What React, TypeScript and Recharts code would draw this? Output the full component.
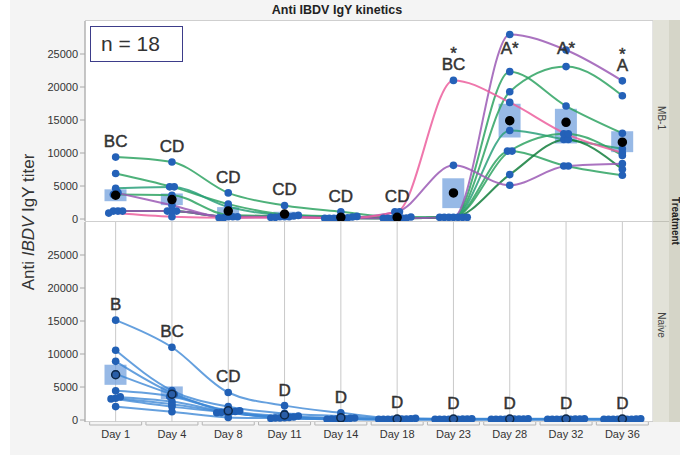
import React from "react"
import { Bar, CartesianGrid, ComposedChart, Line, Scatter, XAxis, YAxis } from "recharts"

const days = ["Day 1", "Day 4", "Day 8", "Day 11", "Day 14", "Day 18", "Day 23", "Day 28", "Day 32", "Day 36"]
const yTicks = [0, 5000, 10000, 15000, 20000, 25000]

// MB-1 birds, titer per day
const mbGreen1 = [9380, 8630, 3960, 2050, 1100, 300, 250, 22330, 17120, 13000]
const mbGreen2 = [6900, 4870, 2260, 700, 400, 150, 250, 19280, 23090, 18670]
const mbGreen3 = [4650, 4870, 1850, 550, 300, 150, 250, 13400, 12050, 10650]
const mbGreen4 = [3700, 3600, 600, 450, 200, 100, 250, 10290, 12900, 9640]
const mbGreen5 = [1200, 1200, 350, 350, 150, 100, 250, 10290, 8030, 6630]
const mbGreen6 = [1200, 1200, 350, 350, 100, 100, 250, 6730, 12050, 7530]
const mbPurple1 = [4000, 2100, 200, 250, 100, 100, 250, 27960, 25600, 20930]
const mbPurple2 = [1200, 1200, 350, 350, 150, 1100, 8130, 5120, 8030, 8390]
const mbPink = [900, 350, 200, 250, 100, 1100, 21000, 17670, 12900, 10040]

const mbMean = [3600, 2950, 1200, 750, 250, 250, 3960, 14900, 14650, 11640]
const mbLow = [2700, 2100, 500, 400, 100, 50, 1650, 12350, 11450, 10130]
const mbHigh = [4500, 3870, 1800, 1100, 450, 600, 6170, 17470, 16700, 13300]
const mbLetters = ["BC", "CD", "CD", "CD", "CD", "CD", "BC", "A*", "A*", "A"]
const mbStarAbove = [false, false, false, false, false, false, true, false, false, true]

// Naive birds
const nv1 = [15130, 11020, 4170, 2180, 1100, 250, 200, 200, 200, 200]
const nv2 = [10560, 4460, 2030, 1000, 600, 200, 150, 150, 150, 150]
const nv3 = [8890, 4100, 1400, 600, 300, 150, 150, 150, 150, 100]
const nv4 = [7000, 3900, 1300, 450, 250, 150, 100, 150, 100, 100]
const nv5 = [4420, 3550, 1250, 400, 200, 100, 100, 100, 100, 100]
const nv6 = [3500, 2790, 1200, 350, 200, 100, 100, 100, 100, 100]
const nv7 = [3300, 2400, 1150, 300, 150, 100, 100, 100, 100, 100]
const nv8 = [3200, 2030, 1100, 300, 150, 100, 100, 100, 100, 100]
const nv9 = [2030, 1260, 400, 250, 100, 100, 100, 100, 100, 100]

const nvMean = [6860, 3910, 1400, 760, 330, 150, 150, 150, 150, 150]
const nvLow = [5330, 3150, 1050, 450, 150, 100, 100, 100, 100, 100]
const nvHigh = [8380, 5090, 1850, 1100, 520, 200, 200, 200, 200, 200]
const nvLetters = ["B", "BC", "CD", "D", "D", "D", "D", "D", "D", "D"]
const nvStarAbove = days.map(() => false)

type Bird = { key: string; color: string; values: number[] }

const green = "#2fa363"
const mbBirds: Bird[] = [
  { key: "g1", color: green, values: mbGreen1 },
  { key: "g2", color: green, values: mbGreen2 },
  { key: "g3", color: "#2aa07a", values: mbGreen3 },
  { key: "g4", color: green, values: mbGreen4 },
  { key: "g5", color: green, values: mbGreen5 },
  { key: "g6", color: "#137e3c", values: mbGreen6 },
  { key: "p1", color: "#9b5bb5", values: mbPurple1 },
  { key: "p2", color: "#9b5bb5", values: mbPurple2 },
  { key: "k1", color: "#ec5f9e", values: mbPink },
]

const blue = "#3f88d6"
const nvBirds: Bird[] = [nv1, nv2, nv3, nv4, nv5, nv6, nv7, nv8, nv9].map((values, i) => ({
  key: "n" + i,
  color: blue,
  values,
}))

function buildRows(birds: Bird[], mean: number[], lo: number[], hi: number[]) {
  return days.map((day, i) => {
    const row: any = { day, idx: i, mean: mean[i], box: [lo[i], hi[i]] }
    row.peak = Math.max(...birds.map((b) => b.values[i]))
    birds.forEach((b) => (row[b.key] = b.values[i]))
    return row
  })
}

// spread points that sit on the same level, like JMP jitter
function jitter(birds: Bird[], thresh: number, step: number) {
  const off = birds.map(() => days.map(() => 0))
  days.forEach((_, d) => {
    const order = birds.map((_, a) => a).sort((a, b) => birds[a].values[d] - birds[b].values[d])
    let group: number[] = []
    const flush = () => {
      group.forEach((a, i) => (off[a][d] = (i - (group.length - 1) / 2) * step))
      group = []
    }
    order.forEach((a) => {
      if (group.length && birds[a].values[d] - birds[group[0]].values[d] > thresh) flush()
      group.push(a)
    })
    flush()
  })
  return off
}

const font = "'Liberation Sans', Arial, sans-serif"

const DayTick = (props: any) => {
  const { x, y, payload } = props
  const half = 26
  return (
    <g>
      <path
        d={`M${x - half},${y - 3} V${y} H${x + half} V${y - 3}`}
        stroke="#b5b5b5"
        fill="none"
      />
      <text x={x} y={y + 13} textAnchor="middle" fontSize={11} fill="#333" fontFamily={font}>
        {payload.value}
      </text>
    </g>
  )
}

type PanelProps = {
  birds: Bird[]
  mean: number[]
  lo: number[]
  hi: number[]
  letters: string[]
  starAbove: boolean[]
  top: number
  height: number
  bottom: number
  showX: boolean
  lineOpacity: number
  dotColor: string
  meanFill: string
  meanStroke: string
}

function Panel(p: PanelProps) {
  const rows = buildRows(p.birds, p.mean, p.lo, p.hi)
  const offsets = jitter(p.birds, 350, 4.6)
  return (
    <div style={{ position: "absolute", left: 0, top: p.top }}>
      <ComposedChart
        width={680}
        height={p.height}
        data={rows}
        margin={{ top: 1, right: 27, bottom: p.bottom, left: 25 }}
      >
        <CartesianGrid horizontal={false} stroke="#c9c9c9" />
        <XAxis
          dataKey="day"
          padding={{ left: 2.5, right: 2.5 }}
          height={p.showX ? 30 : 0}
          axisLine={false}
          tickLine={false}
          tickSize={0}
          tickMargin={3}
          interval={0}
          tick={p.showX ? <DayTick /> : false}
        />
        <YAxis
          width={60}
          domain={[-300, 30000]}
          ticks={yTicks}
          interval={0}
          allowDataOverflow
          axisLine={{ stroke: "#a8a8a8" }}
          tickLine={{ stroke: "#a8a8a8" }}
          tickSize={5}
          tick={{ fontSize: 11, fill: "#333", fontFamily: font }}
        />
        {p.birds.map((b) => (
          <Line
            key={b.key}
            dataKey={b.key}
            type="monotone"
            stroke={b.color}
            strokeWidth={2}
            strokeOpacity={p.lineOpacity}
            dot={false}
            activeDot={false}
            isAnimationActive={false}
          />
        ))}
        <Bar dataKey="box" barSize={22} fill="#6f9edc" fillOpacity={0.72} isAnimationActive={false} />
        {p.birds.map((b, bi) => (
          <Scatter
            key={"s" + b.key}
            dataKey={b.key}
            isAnimationActive={false}
            shape={(s: any) => (
              <circle cx={s.cx + offsets[bi][s.payload.idx]} cy={s.cy} r={3.8} fill={p.dotColor} />
            )}
          />
        ))}
        <Scatter
          dataKey="mean"
          isAnimationActive={false}
          shape={(s: any) => (
            <circle cx={s.cx} cy={s.cy} r={4} fill={p.meanFill} stroke={p.meanStroke} strokeWidth={1.5} />
          )}
        />
        <Scatter
          dataKey="peak"
          isAnimationActive={false}
          shape={(s: any) => {
            const i = s.payload.idx
            const c = Math.max(s.cy - 16, 28)
            return (
              <text
                x={s.cx}
                y={c + 6}
                fontFamily={font}
                fontSize={17}
                fill="#333"
                stroke="#333"
                strokeWidth={0.45}
                textAnchor="middle"
              >
                {p.starAbove[i] ? (
                  <>
                    <tspan x={s.cx} y={c - 5}>
                      *
                    </tspan>
                    <tspan x={s.cx} y={c + 6}>
                      {p.letters[i]}
                    </tspan>
                  </>
                ) : (
                  p.letters[i]
                )}
              </text>
            )
          }}
        />
      </ComposedChart>
    </div>
  )
}

export default function App() {
  return (
    <div
      style={{
        position: "absolute",
        left: 0,
        top: 0,
        width: 680,
        height: 457,
        background: "#ffffff",
        fontFamily: font,
        overflow: "hidden",
      }}
    >
      <div style={{ position: "absolute", left: 10, top: 0, width: 670, height: 455, background: "#f4f4f4" }} />
      <div
        style={{
          position: "absolute",
          left: 85,
          top: 20,
          width: 568,
          height: 402,
          background: "#fff",
          boxSizing: "border-box",
          borderTop: "1px solid #cfcfcf",
          borderBottom: "1px solid #cfcfcf",
        }}
      />
      <div style={{ position: "absolute", left: 85, top: 221, width: 568, height: 1, background: "#cfcfcf" }} />
      <Panel
        birds={mbBirds}
        mean={mbMean}
        lo={mbLow}
        hi={mbHigh}
        letters={mbLetters}
        starAbove={mbStarAbove}
        top={20}
        height={208}
        bottom={7}
        showX={false}
        lineOpacity={0.85}
        dotColor="#2461b8"
        meanFill="#000"
        meanStroke="#000"
      />
      <Panel
        birds={nvBirds}
        mean={nvMean}
        lo={nvLow}
        hi={nvHigh}
        letters={nvLetters}
        starAbove={nvStarAbove}
        top={221}
        height={236}
        bottom={5}
        showX={true}
        lineOpacity={0.8}
        dotColor="#2160b5"
        meanFill="#2a5ea8"
        meanStroke="#0e2848"
      />
      <svg width={680} height={457} style={{ position: "absolute", left: 0, top: 0, pointerEvents: "none" }}>
        <text x={337} y={14} textAnchor="middle" fontSize={12.5} fontWeight="bold" fill="#222" fontFamily={font}>
          Anti IBDV IgY kinetics
        </text>
        <text
          transform="translate(34,222) rotate(-90)"
          textAnchor="middle"
          fontSize={17}
          fill="#333"
          fontFamily={font}
        >
          Anti <tspan fontStyle="italic">IBDV</tspan> IgY titer
        </text>
        <rect x={653} y={20} width={16} height={402} fill="#e2e2d8" />
        <rect x={669} y={20} width={11} height={402} fill="#d5d5c8" />
        <line x1={653} x2={669} y1={221.5} y2={221.5} stroke="#c2c2b8" />
        <text transform="translate(657.5,118) rotate(90)" textAnchor="middle" fontSize={10} fill="#444" fontFamily={font}>
          MB-1
        </text>
        <text transform="translate(657.5,325) rotate(90)" textAnchor="middle" fontSize={10} fill="#444" fontFamily={font}>
          Naive
        </text>
        <text
          transform="translate(671.5,221) rotate(90)"
          textAnchor="middle"
          fontSize={10}
          fontWeight="bold"
          fill="#222"
          fontFamily={font}
        >
          Treatment
        </text>
      </svg>
      <div
        style={{
          position: "absolute",
          left: 90,
          top: 26,
          width: 93,
          height: 36,
          boxSizing: "border-box",
          border: "1.5px solid #3d3d8a",
          background: "#fff",
          fontSize: 21,
          color: "#333",
          lineHeight: "33px",
          paddingLeft: 10,
        }}
      >
        n = 18
      </div>
    </div>
  )
}
